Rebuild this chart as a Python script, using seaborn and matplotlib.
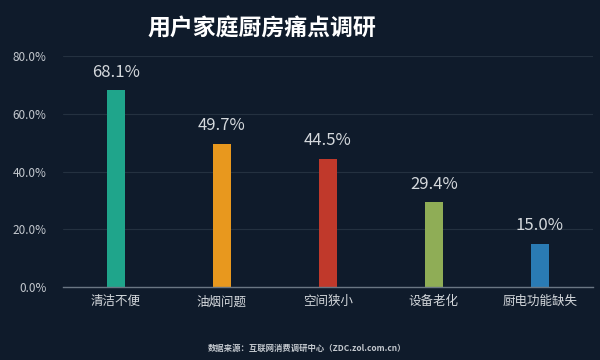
import matplotlib
matplotlib.use('Agg')
import matplotlib.pyplot as plt
import seaborn as sns
import pandas as pd

categories = ['清洁不便', '油烟问题', '空间狭小', '设备老化', '厨电功能缺失']
values = [68.1, 49.7, 44.5, 29.4, 15.0]
colors = ['#1fa58b', '#e8981e', '#c0392b', '#8fad56', '#2a7bb4']
yticks = [0, 20, 40, 60, 80]

bg = '#0f1b2b'
txt = '#d4d8dc'

sns.set_theme(style='dark')
plt.rcParams['font.family'] = ['Noto Sans CJK SC', 'DejaVu Sans']

df = pd.DataFrame({'cat': categories, 'val': values})

fig = plt.figure(figsize=(6, 3.6), dpi=100, facecolor=bg)
ax = fig.add_axes([0.105, 0.203, 0.883, 0.641])
ax.set_facecolor(bg)

sns.barplot(data=df, x='cat', y='val', hue='cat', palette=colors,
            legend=False, width=0.17, ax=ax, saturation=1, linewidth=0)

for i, v in enumerate(values):
    ax.text(i, v + 3.2, f'{v:.1f}%', ha='center', va='bottom',
            color=txt, fontsize=12)

ax.set_ylim(0, 80)
ax.set_xlim(-0.5, 4.5)
ax.set_yticks(yticks)
ax.set_yticklabels([f'{t:.1f}%' for t in yticks], color='#c3c8ce', fontsize=8.5)
ax.tick_params(axis='x', colors=txt, labelsize=9, pad=6, length=0)
ax.tick_params(axis='y', length=0, pad=12)
ax.set_xlabel('')
ax.set_ylabel('')
ax.yaxis.grid(True, color='#243140', linewidth=0.8)
ax.set_axisbelow(True)
for s in ['top', 'right', 'left']:
    ax.spines[s].set_visible(False)
ax.spines['bottom'].set_color('#6a7683')
ax.spines['bottom'].set_linewidth(1)

fig.text(0.437, 0.92, '用户家庭厨房痛点调研', ha='center', va='center',
         color='white', fontsize=16.5, fontweight='bold')
fig.text(0.512, 0.033, '数据来源：互联网消费调研中心（ZDC.zol.com.cn）', ha='center',
         va='center', color='#c3c8ce', fontsize=6, fontweight='bold')

fig.savefig('out.png', dpi=100, facecolor=bg)
